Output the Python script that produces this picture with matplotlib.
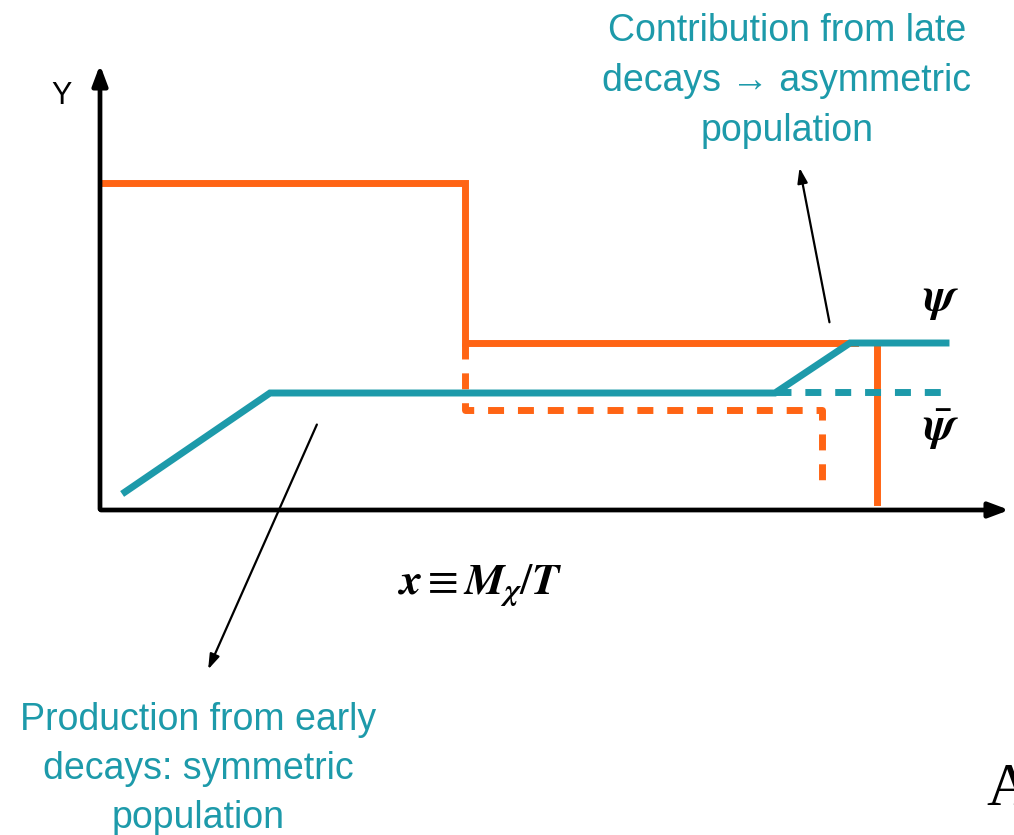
import numpy as np
import matplotlib.pyplot as plt

# schematic, coordinates in picture units (x right, y down)
orange_x = [103, 465, 465, 855]
orange_y = [183, 183, 343, 343]
orange_drop_x = [877, 877]
orange_drop_y = [345, 502]
orange_dash_x = [465, 465, 822, 822]
orange_dash_y = [343, 410, 410, 491]

teal_x = [125, 270, 775, 850, 946]
teal_y = [492, 393, 393, 343, 343]
teal_dash_x = [775, 946]
teal_dash_y = [392, 392]

orange = '#ff6414'
teal = '#1d9aaa'

fig = plt.figure(figsize=(10.14, 8.35), dpi=100)
ax = fig.add_axes([0, 0, 1, 1])
ax.set_xlim(0, 1014)
ax.set_ylim(835, 0)
ax.axis('off')

# axes arrows
ax.annotate('', xy=(100, 62), xytext=(100, 512),
            arrowprops=dict(arrowstyle='-|>,head_width=0.45,head_length=1.2', color='black', lw=3.4))
ax.annotate('', xy=(1012, 510), xytext=(98, 510),
            arrowprops=dict(arrowstyle='-|>,head_width=0.45,head_length=1.2', color='black', lw=3.4))

ax.plot(orange_x, orange_y, color=orange, lw=5, solid_joinstyle='miter')
ax.plot(orange_drop_x, orange_drop_y, color=orange, lw=5)
ax.plot(orange_dash_x, orange_dash_y, color=orange, lw=5, dashes=(2.3, 2.0))
ax.plot(teal_x, teal_y, color=teal, lw=5, solid_joinstyle='miter')
ax.plot(teal_dash_x, teal_dash_y, color=teal, lw=5, dashes=(2.3, 2.0), dash_capstyle='butt')

ax.text(62, 96, 'Y', fontsize=22, ha='center', va='center', family='Liberation Sans')
ax.text(941, 300, r'$\mathbfit{\psi}$', fontsize=34, ha='center', va='center', math_fontfamily='stix')
ax.text(941, 430, r'$\bar{\mathbfit{\psi}}$', fontsize=34, ha='center', va='center', math_fontfamily='stix')
ax.text(480, 585, r'$\mathbfit{x} \equiv \mathbfit{M}_{\mathbfit{\chi}} / \mathbfit{T}$', fontsize=32,
        ha='center', va='center', math_fontfamily='stix')
ax.text(986, 790, 'A', fontsize=44, ha='left', va='center', family='Liberation Serif')

ax.text(787, 81, 'Contribution from late\ndecays \u2192 asymmetric\npopulation', color=teal,
        fontsize=27, ha='center', va='center', linespacing=1.5, family='Liberation Sans')
ax.text(198, 769, 'Production from early\ndecays: symmetric\npopulation', color=teal,
        fontsize=27, ha='center', va='center', linespacing=1.45, family='Liberation Sans')

ax.annotate('', xy=(799, 165), xytext=(830, 325),
            arrowprops=dict(arrowstyle='-|>,head_width=0.3,head_length=0.9', color='black', lw=1.6))
ax.annotate('', xy=(207, 672), xytext=(318, 422),
            arrowprops=dict(arrowstyle='-|>,head_width=0.3,head_length=0.9', color='black', lw=1.6))

fig.savefig('out.png', dpi=100)
